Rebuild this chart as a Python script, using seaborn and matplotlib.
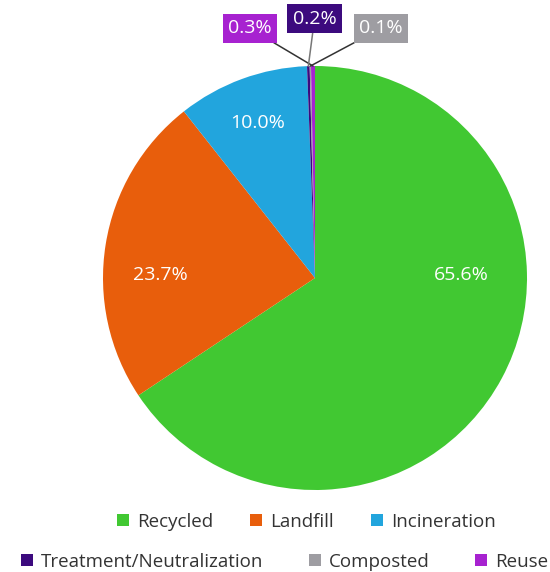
import matplotlib
matplotlib.use("Agg")
import matplotlib.pyplot as plt
from matplotlib.lines import Line2D
import seaborn as sns
import numpy as np

categories = ["Recycled", "Landfill", "Incineration",
              "Treatment/Neutralization", "Composted", "Reuse"]
shares = [65.6, 23.7, 10.0, 0.2, 0.1, 0.3]
colors = ["#41c832", "#e85e0c", "#22a5dd", "#3c0a7e", "#9e9da2", "#a722d0"]

sns.set_theme(style="white")
plt.rcParams["font.family"] = ["Open Sans", "DejaVu Sans"]

W, H = 550, 572
fig = plt.figure(figsize=(W / 100, H / 100), dpi=100)
cx, cy, r = 315, 278, 212
ax = fig.add_axes([(cx - r) / W, (H - cy - r) / H, 2 * r / W, 2 * r / H])

wedges, _ = ax.pie(shares, colors=colors, startangle=90, counterclock=False,
                   radius=1.0, wedgeprops=dict(linewidth=0))
ax.set_xlim(-1, 1)
ax.set_ylim(-1, 1)
ax.set_aspect("equal", adjustable="box")
ax.axis("off")

# inside labels (polar placement: angle in degrees, fraction of radius)
inside_place = {0: (1.0, 0.69), 1: (179.0, 0.73), 2: (None, 0.78)}
for i, (ang, frac) in inside_place.items():
    w = wedges[i]
    if ang is None:
        ang = (w.theta1 + w.theta2) / 2
    a = np.deg2rad(ang)
    ax.text(frac * np.cos(a), frac * np.sin(a), f"{shares[i]:.1f}%",
            ha="center", va="center", color="white", fontsize=14)

# outside labels for the thin slices, with connector lines
outside_place = {5: (-0.307, 1.177), 3: (-0.002, 1.224), 4: (0.311, 1.177)}
line_colors = {5: "#333333", 3: "#777777", 4: "#333333"}
for i, (tx, ty) in outside_place.items():
    w = wedges[i]
    a = np.deg2rad((w.theta1 + w.theta2) / 2)
    ax.annotate(f"{shares[i]:.1f}%", xy=(1.0 * np.cos(a), 1.0 * np.sin(a)),
                xytext=(tx, ty), ha="center", va="center", color="white",
                fontsize=14, annotation_clip=False,
                bbox=dict(boxstyle="square,pad=0.27", facecolor=colors[i],
                          edgecolor="none"),
                arrowprops=dict(arrowstyle="-", color=line_colors[i], lw=1.1,
                                shrinkA=0, shrinkB=0))

def handles_for(idx):
    return [Line2D([], [], marker="s", linestyle="none", markersize=8,
                   markerfacecolor=colors[i], markeredgewidth=0) for i in idx]

leg_kw = dict(frameon=False, fontsize=13.5, handlelength=0.7, handletextpad=0.4,
              borderpad=0, labelcolor="#333333")
row1 = [0, 1, 2]
row2 = [3, 4, 5]
fig.legend(handles_for(row1), [categories[i] for i in row1], loc="center",
           bbox_to_anchor=(306 / W, 1 - 522 / H), ncol=3, columnspacing=1.95,
           **leg_kw)
fig.legend(handles_for(row2), [categories[i] for i in row2], loc="center",
           bbox_to_anchor=(284 / W, 1 - 562 / H), ncol=3, columnspacing=2.4,
           **leg_kw)

fig.savefig("out.png", dpi=100, facecolor="white")
